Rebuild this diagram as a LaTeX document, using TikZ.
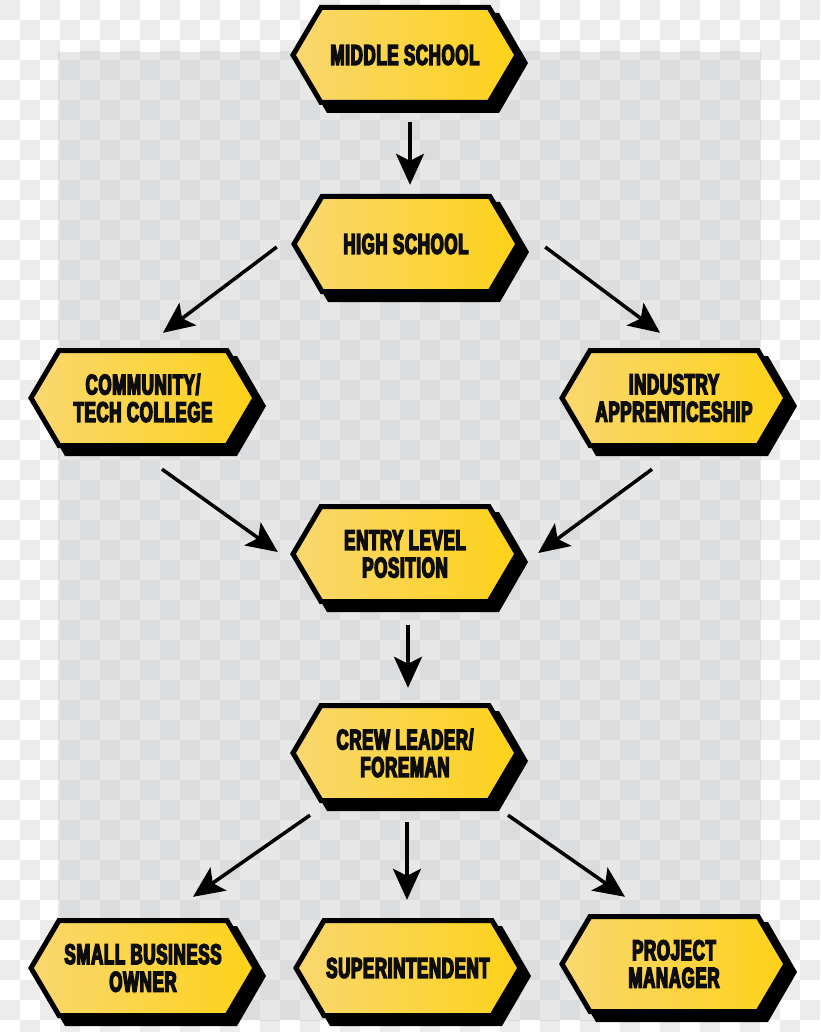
\documentclass[tikz,border=0pt]{standalone}
\usepackage{fontspec}
\usetikzlibrary{arrows.meta}
\newfontfamily\lblfont[FakeStretch=0.59,FakeBold=5,LetterSpace=2.5]{Liberation Sans Bold}
\definecolor{outergray}{RGB}{236,236,236}
\definecolor{innerlight}{RGB}{231,231,231}
\definecolor{innerdark}{RGB}{219,220,222}
\definecolor{hexL}{RGB}{249,215,112}
\definecolor{hexR}{RGB}{253,210,25}
\tikzset{
  hexnode/.style={minimum width=230pt, minimum height=100pt, inner sep=0pt, align=center,
    font={\lblfont\fontsize{28.5}{27.5}\selectfont}, text=black!95},
  flow/.style={line width=3.5pt, -{Stealth[length=31pt, width=28pt, inset=7pt]}}
}
\newcommand\hexbox[3]{%
  \begin{scope}[shift={(#2)}]
    \fill[black] (-107,8) -- (-78,-42) -- (94,-42) -- (123,8) -- (94,58) -- (-78,58) -- cycle;
    \shadedraw[left color=hexL, right color=hexR, draw=black, line width=5pt, line join=miter]
      (-112,0) -- (-84,-47.5) -- (84,-47.5) -- (112,0) -- (84,47.5) -- (-84,47.5) -- cycle;
  \end{scope}
  \node[hexnode] (#1) at (#2) {#3};
}
\begin{document}
\begin{tikzpicture}[x=1pt, y=-1pt]
\useasboundingbox (0,0) rectangle (820,1032);
% outer checkerboard
\fill[white] (0,0) rectangle (820,1032);
\foreach \i in {0,...,40}{
  \pgfmathtruncatemacro\off{mod(\i,2)}
  \foreach \j in {0,...,25}{
    \fill[outergray] ({\i*20},{(2*\j+\off)*20}) rectangle ++(20,20);
  }
}
% inner darker checkerboard
\begin{scope}
  \clip (58,52) rectangle (761,1020);
  \fill[innerlight] (58,52) rectangle (761,1020);
  \foreach \i in {2,...,38}{
    \pgfmathtruncatemacro\off{mod(\i,2)}
    \foreach \j in {1,...,25}{
      \fill[innerdark] ({\i*20},{(2*\j+\off)*20}) rectangle ++(20,20);
    }
  }
\end{scope}
% nodes
\hexbox{ms}{405,55}{MIDDLE SCHOOL}
\hexbox{hs}{406,244}{HIGH SCHOOL}
\hexbox{ctc}{143,398}{COMMUNITY/\\TECH COLLEGE}
\hexbox{ia}{674,398}{INDUSTRY\\APPRENTICESHIP}
\hexbox{elp}{405,554}{ENTRY LEVEL\\POSITION}
\hexbox{cl}{405,753}{CREW LEADER/\\FOREMAN}
\hexbox{sbo}{143,968}{SMALL BUSINESS\\OWNER}
\hexbox{sup}{408,968}{SUPERINTENDENT}
\hexbox{pm}{674,964}{PROJECT\\MANAGER}
% connectors
\draw[flow] ([shift={(5,17)}]ms.south) -- ([shift={(4,-9)}]hs.north);
\draw[flow] ([shift={(-14,3)}]hs.west) -- ([shift={(20,-15)}]ctc.north);
\draw[flow] ([shift={(24,3)}]hs.east) -- ([shift={(-14,-15)}]ia.north);
\draw[flow] ([shift={(19,21)}]ctc.south) -- ([shift={(-12,-2)}]elp.west);
\draw[flow] ([shift={(-22,21)}]ia.south) -- ([shift={(18,-1)}]elp.east);
\draw[flow] ([shift={(3,21)}]elp.south) -- ([shift={(3,-15)}]cl.north);
\draw[flow] ([shift={(-95,12)}]cl.south) -- ([shift={(50,-21)}]sbo.north);
\draw[flow] ([shift={(2,19)}]cl.south) -- ([shift={(-1,-18)}]sup.north);
\draw[flow] ([shift={(103,12)}]cl.south) -- ([shift={(-49,-17)}]pm.north);
\end{tikzpicture}
\end{document}
